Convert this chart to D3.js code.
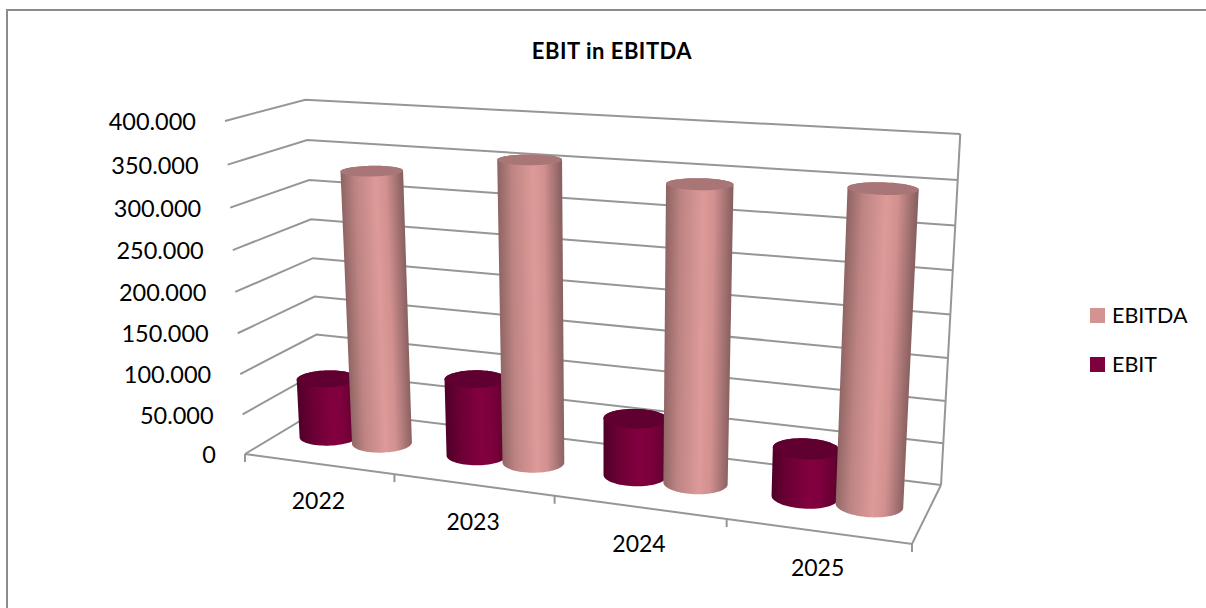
<!DOCTYPE html>
<html><head><meta charset="utf-8">
<script src="https://cdn.jsdelivr.net/npm/d3@7"></script>
<style>html,body{margin:0;padding:0;background:#fff}svg{display:block}text{font-family:Lato,"Noto Sans",sans-serif;fill:#000}</style>
</head><body><svg id="c" width="1206" height="608"></svg>
<script>
const categories = ["2022","2023","2024","2025"];
const ebit   = [74000, 95000, 69000, 57000];
const ebitda = [335000, 360000, 345000, 353000];
const valueTicks = [0,50000,100000,150000,200000,250000,300000,350000,400000];
const title = "EBIT in EBITDA";

const W=1206,H=608;
const svg=d3.select("#c");
const defs=svg.append("defs");

// perspective frame of the 3D plot: floor quad (front-left, front-right, back-right, back-left)
const floorQ=[[245,454],[912,544],[941,485],[320,409]];
const topFrontLeft=[225,121], PW=-0.052;
function homography(q){
  const [[x0,y0],[x1,y1],[x2,y2],[x3,y3]]=q;
  const dx1=x1-x2,dx2=x3-x2,sx=x0-x1+x2-x3,dy1=y1-y2,dy2=y3-y2,sy=y0-y1+y2-y3;
  const den=dx1*dy2-dx2*dy1,g=(sx*dy2-dx2*sy)/den,h=(dx1*sy-sx*dy1)/den;
  const a=x1-x0+g*x1,b=x3-x0+h*x3,d=y1-y0+g*y1,e=y3-y0+h*y3;
  return {a,b,c:x0,d,e,f:y0,g,h};
}
const M=homography(floorQ);
const PX=topFrontLeft[0]*(1+PW)-floorQ[0][0], PY=topFrontLeft[1]*(1+PW)-floorQ[0][1];
function P(u,w,v){
  const t=M.g*u+M.h*w+1+PW*v;
  return [(M.a*u+M.b*w+M.c+PX*v)/t,(M.d*u+M.e*w+M.f+PY*v)/t];
}
const yScale=d3.scaleLinear().domain([0,400000]).range([0,1]);
const uScale=d3.scaleBand().domain(categories).range([0,1]);
const seriesDefs=[
 {name:"EBIT",values:ebit,off:-0.0455,stops:["#4f0028","#6a0034","#82003f","#7f003e","#5e002e"],cap:"#5f0030",sw:"#7f003f"},
 {name:"EBITDA",values:ebitda,off:0.0455,stops:["#8f6563","#bd8483","#dc9a98","#d29190","#896060"],cap:"#a87676",sw:"#d39391"}
];
const RU=0.046,RW=0.19,WC=0.505;
const line=d3.line();
const grid="#969696";
const gAxes=svg.append("g").attr("fill","none").attr("stroke",grid).attr("stroke-width",2);

svg.append("path").attr("d",line([[7,H],[7,10],[W,10]])).attr("fill","none").attr("stroke","#8c8c8c").attr("stroke-width",2);

valueTicks.forEach(t=>{
  const v=yScale(t);
  gAxes.append("path").attr("d",line([P(0,0,v),P(0,1,v),P(1,1,v)]));
});
gAxes.append("path").attr("d",line([P(1,1,0),P(1,1,1)]));
gAxes.append("path").attr("d",line([P(0,0,0),P(1,0,0),P(1,1,0)]));
[0,.25,.5,.75,1].forEach(u=>{
  const p=P(u,0,0);
  gAxes.append("path").attr("d",line([p,[p[0],p[1]+8]]));
});

const fmt=d3.formatLocale({decimal:",",thousands:".",grouping:[3],currency:["",""]}).format(",");
valueTicks.forEach(t=>{
  const p=P(0,0,yScale(t));
  svg.append("text").attr("x",p[0]-29).attr("y",p[1]+1).attr("dy","0.35em").attr("text-anchor","end").attr("font-size",23.5).text(fmt(t));
});
categories.forEach(c=>{
  const p=P(uScale(c)+uScale.bandwidth()/2,0,0);
  svg.append("text").attr("x",p[0]).attr("y",p[1]+37).attr("dy","0.35em").attr("text-anchor","middle").attr("font-size",23).text(c);
});

const angles=d3.range(0,360,5).map(a=>a*Math.PI/180);
const gBars=svg.append("g");
categories.forEach((c,i)=>{
  const uc=uScale(c)+uScale.bandwidth()/2;
  seriesDefs.forEach((s,si)=>{
    const u0=uc+s.off,v=yScale(s.values[i]);
    const ring=vv=>angles.map(a=>P(u0+RU*Math.cos(a),WC+RW*Math.sin(a),vv));
    const bot=ring(0),top=ring(v),all=bot.concat(top),hull=d3.polygonHull(all);
    const id=`g${i}_${si}`;
    const bc=P(u0,WC,0),tc=P(u0,WC,v);
    const ax=tc[0]-bc[0],ay=tc[1]-bc[1],len=Math.hypot(ax,ay),nx=-ay/len,ny=ax/len;
    const midx=(bc[0]+tc[0])/2,midy=(bc[1]+tc[1])/2;
    const half=(d3.max(all,d=>d[0])-d3.min(all,d=>d[0])-Math.abs(ax))/2;
    const gr=defs.append("linearGradient").attr("id",id).attr("gradientUnits","userSpaceOnUse")
      .attr("x1",midx-nx*half).attr("y1",midy-ny*half)
      .attr("x2",midx+nx*half).attr("y2",midy+ny*half);
    [0,.22,.55,.72,1].forEach((o,k)=>gr.append("stop").attr("offset",o).attr("stop-color",s.stops[k]));
    gBars.append("path").attr("d",line(hull)+"Z").attr("fill",`url(#${id})`);
    gBars.append("path").attr("d",line(top)+"Z").attr("fill",s.cap);
  });
});

svg.append("text").attr("x",612).attr("y",51).attr("dy","0.35em").attr("text-anchor","middle").attr("font-size",22).attr("letter-spacing",0.5).attr("font-weight",700).text(title);

[seriesDefs[1],seriesDefs[0]].forEach((s,i)=>{
  const cy=315.5+i*49;
  svg.append("rect").attr("x",1090).attr("y",cy-7.5).attr("width",15).attr("height",15).attr("fill",s.sw);
  svg.append("text").attr("x",1112).attr("y",cy).attr("dy","0.35em").attr("font-size",21.5).text(s.name);
});
</script></body></html>
